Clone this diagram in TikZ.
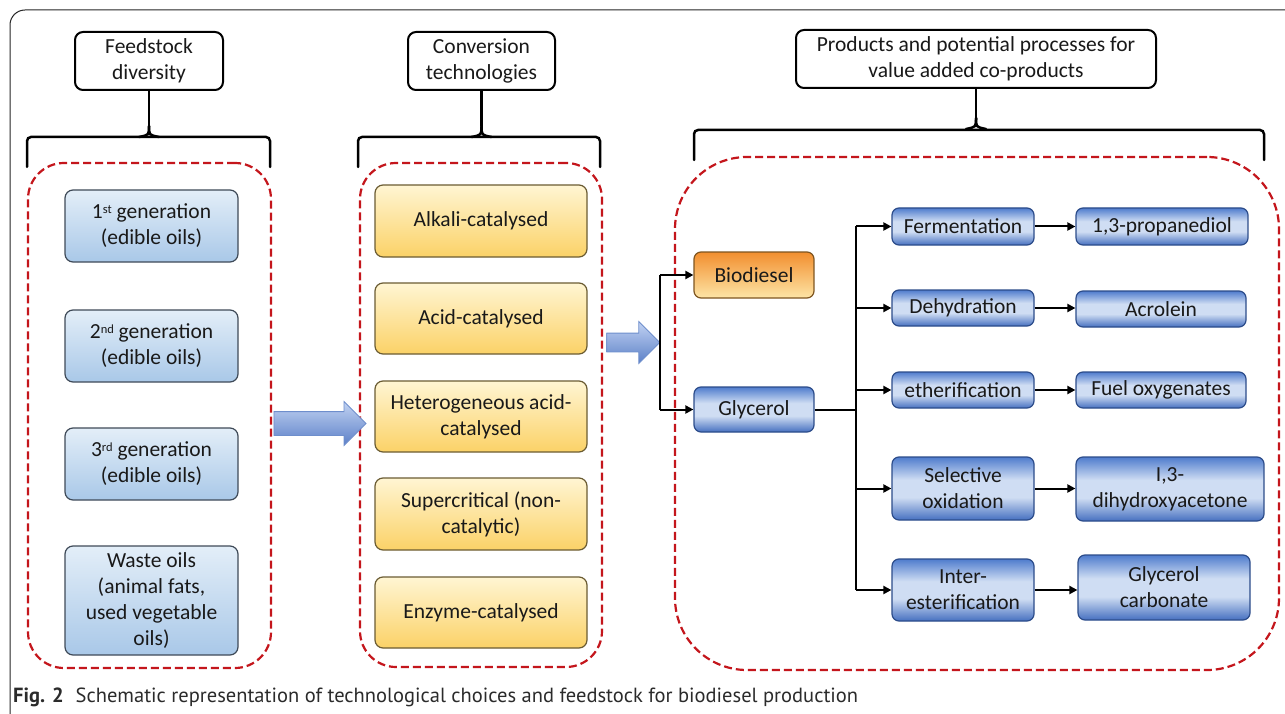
\documentclass[tikz,border=0pt]{standalone}
\usepackage{fontspec}
\setmainfont{Carlito}
\newfontfamily\capfont{PT Sans}
\usetikzlibrary{arrows.meta,shapes.arrows,calc}
\definecolor{dred}{HTML}{C4161C}
\definecolor{lbtop}{HTML}{E3EEF8}
\definecolor{lbbot}{HTML}{A9C8E8}
\definecolor{lbdraw}{HTML}{3F4A58}
\definecolor{ytop}{HTML}{FFF5D3}
\definecolor{ybot}{HTML}{FBD267}
\definecolor{ydraw}{HTML}{6B5C33}
\definecolor{dbtop}{HTML}{4F7CCD}
\definecolor{dbmid}{HTML}{CFDDF3}
\definecolor{dbbot}{HTML}{4670C0}
\definecolor{dbdraw}{HTML}{2C4C8A}
\definecolor{otop}{HTML}{F28E2E}
\definecolor{obot}{HTML}{FDE5A6}
\definecolor{odraw}{HTML}{7E5520}
\definecolor{artop}{HTML}{C2D3F2}
\definecolor{arbot}{HTML}{5C80C8}
\definecolor{ardraw}{HTML}{6E8ECC}
\definecolor{capgray}{HTML}{2B2B2B}
\pgfdeclareverticalshading{dbshade}{100bp}{color(0bp)=(dbbot); color(25bp)=(dbbot); color(43bp)=(dbmid); color(57bp)=(dbmid); color(75bp)=(dbtop); color(100bp)=(dbtop)}
\newcommand\supx[1]{\raisebox{0.55ex}{\fontsize{12.5}{12.5}\selectfont #1}}
\begin{document}
\begin{tikzpicture}[x=1pt,y=-1pt,
  txt/.style={align=center,font=\fontsize{21.5}{26}\selectfont,text=black!90,inner sep=2pt},
  hdr/.style={txt,draw=black,line width=2pt,rounded corners=8pt,fill=white},
  region/.style={draw=dred,dashed,dash pattern=on 8pt off 4pt,line width=2.2pt},
  lbox/.style={txt,draw=lbdraw,line width=1.2pt,rounded corners=8pt,top color=lbtop,bottom color=lbbot,minimum width=173pt},
  ybox/.style={txt,draw=ydraw,line width=1.2pt,rounded corners=8pt,top color=ytop,bottom color=ybot,minimum width=212pt},
  dbox/.style={txt,draw=dbdraw,line width=1.2pt,rounded corners=7pt,shading=dbshade},
  obox/.style={txt,draw=odraw,line width=1.2pt,rounded corners=7pt,top color=otop,bottom color=obot},
  bigarrow/.style={single arrow,draw=ardraw,line width=0.8pt,top color=artop,bottom color=arbot,inner xsep=0pt,shape border rotate=0},
  brace/.style={draw=black,line width=2.5pt,line cap=round},
  link/.style={draw=black,line width=2pt},
  arr/.style={link,-{Triangle[length=8pt,width=8pt]}}
]
\useasboundingbox (0,0) rectangle (1285,714);
\fill[white] (0,0) rectangle (1285,714);
% outer frame
\draw[black!85,line width=1pt,rounded corners=15pt] (10,714) -- (10,10) -- (1285,10);

% headers
\node[hdr,minimum width=148pt,minimum height=58pt] (fh) at (149,61) {Feedstock\\diversity};
\node[hdr,minimum width=147pt,minimum height=58pt] (ch) at (481.5,61) {Conversion\\technologies};
\node[hdr,minimum width=360pt,minimum height=58pt] (ph) at (976,59) {Products and potential processes for\\value added co-products};

% braces
\draw[brace,rounded corners=4pt] (27,167) -- (27,137) -- (270,137) -- (270,167);
\draw[brace] (fh.south) -- ++(0,35) coordinate (s1);
\draw[brace] (s1) .. controls ++(0,9) .. ++(-10,11);
\draw[brace] (s1) .. controls ++(0,9) .. ++(10,11);
\draw[brace,rounded corners=4pt] (358,167) -- (358,137) -- (600,137) -- (600,167);
\draw[brace] (ch.south) -- ++(0,35) coordinate (s2);
\draw[brace] (s2) .. controls ++(0,9) .. ++(-10,11);
\draw[brace] (s2) .. controls ++(0,9) .. ++(10,11);
\draw[brace,rounded corners=4pt] (694,160) -- (694,130) -- (1264,130) -- (1264,160);
\draw[brace] (ph.south) -- ++(0,29) coordinate (s3);
\draw[brace] (s3) .. controls ++(0,9) .. ++(-10,11);
\draw[brace] (s3) .. controls ++(0,9) .. ++(10,11);

% dashed regions
\node[region,rounded corners=36pt,minimum width=243pt,minimum height=505pt] (r1) at (149.5,415.5) {};
\node[region,rounded corners=36pt,minimum width=242pt,minimum height=504pt] (r2) at (481,415) {};
\node[region,rounded corners=72pt,minimum width=604pt,minimum height=513pt] (r3) at (977,413.5) {};

% feedstock
\node[lbox,minimum height=72pt] (f1) at (151.5,226) {1\supx{st} generation\\(edible oils)};
\node[lbox,minimum height=72pt] (f2) at (151.5,346) {2\supx{nd} generation\\(edible oils)};
\node[lbox,minimum height=72pt] (f3) at (151.5,464) {3\supx{rd} generation\\(edible oils)};
\node[lbox,minimum height=109pt] (f4) at (151.5,600.5) {Waste oils\\(animal fats,\\used vegetable\\oils)};

% conversion
\node[ybox,minimum height=72pt] (c1) at (481,221) {Alkali-catalysed};
\node[ybox,minimum height=71pt] (c2) at (481,318.5) {Acid-catalysed};
\node[ybox,minimum height=71pt] (c3) at (481,416.5) {Heterogeneous acid-\\catalysed};
\node[ybox,minimum height=72pt] (c4) at (481,514) {Supercritical (non-\\catalytic)};
\node[ybox,minimum height=71pt] (c5) at (481,612.5) {Enzyme-catalysed};

% big arrows
\node[bigarrow,inner ysep=11.5pt,single arrow head extend=10pt,minimum height=92pt] (a1) at (314,423.5) {};
\node[bigarrow,inner ysep=9pt,single arrow head extend=11.5pt,minimum height=53pt] (a2) at (628.5,342.5) {};

% products
\node[obox,minimum width=120pt,minimum height=46pt] (bio) at (754,275) {Biodiesel};
\node[dbox,minimum width=120pt,minimum height=45pt] (gly) at (754,409.5) {Glycerol};

\node[dbox,minimum width=142pt,minimum height=37pt] (p1) at (963,226.5) {Fermentation};
\node[dbox,minimum width=142pt,minimum height=36pt] (p2) at (963,308) {Dehydration};
\node[dbox,minimum width=142pt,minimum height=36pt] (p3) at (963,390) {etherification};
\node[dbox,minimum width=142pt,minimum height=63pt] (p4) at (963,488.5) {Selective\\oxidation};
\node[dbox,minimum width=142pt,minimum height=62pt] (p5) at (963,590) {Inter-\\esterification};

\node[dbox,minimum width=172pt,minimum height=37pt] (q1) at (1162,226.5) {1,3-propanediol};
\node[dbox,minimum width=170pt,minimum height=36pt] (q2) at (1161,309) {Acrolein};
\node[dbox,minimum width=170pt,minimum height=36pt] (q3) at (1161,390) {Fuel oxygenates};
\node[dbox,minimum width=188pt,minimum height=64pt] (q4) at (1170,489) {I,3-\\dihydroxyacetone};
\node[dbox,minimum width=172pt,minimum height=65pt] (q5) at (1164,587.5) {Glycerol\\carbonate};

% connectors left junction
\coordinate (j) at (a2.tip);
\draw[link] (j|-bio.west) -- (j|-gly.west);
\draw[arr] (j|-bio.west) -- (bio.west);
\draw[arr] (j|-gly.west) -- (gly.west);

% glycerol bus
\coordinate (bus) at (856,409.5);
\draw[link] (gly.east) -- (bus);
\draw[link] (bus|-p1.west) -- (bus|-p5.west);
\foreach \p in {p1,p2,p3,p4,p5} {\draw[arr] (bus|-\p.west) -- (\p.west);}
\draw[arr] (p1.east) -- (q1.west|-p1.east);
\draw[arr] (p2.east) -- (q2.west|-p2.east);
\draw[arr] (p3.east) -- (q3.west|-p3.east);
\draw[arr] (p4.east) -- (q4.west|-p4.east);
\draw[arr] (p5.east) -- (q5.west|-p5.east);

% caption
\node[anchor=base west,inner sep=0pt,text=capgray,font=\capfont\fontsize{20.5}{22}\selectfont] (cap) at (13,702)
  {\textbf{Fig. 2}\hspace{12pt}Schematic representation of technological choices and feedstock for biodiesel production};
\end{tikzpicture}
\end{document}
